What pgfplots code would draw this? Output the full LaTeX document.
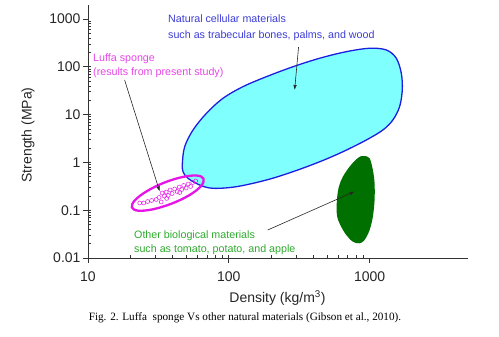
\documentclass[border=0pt]{standalone}
\usepackage{pgfplots}
\pgfplotsset{compat=1.18}
\usepackage{fontspec}
\setmainfont{Liberation Sans}
\newfontfamily\capfont{Liberation Serif}
\usetikzlibrary{arrows.meta}
\definecolor{cyanfill}{RGB}{128,255,255}
\definecolor{blueline}{RGB}{30,30,225}
\definecolor{bluetext}{RGB}{60,60,215}
\definecolor{magline}{RGB}{230,20,230}
\definecolor{magtext}{RGB}{230,70,230}
\definecolor{greenfill}{RGB}{0,112,0}
\definecolor{greentext}{RGB}{45,170,45}
\begin{document}
\begin{tikzpicture}
\path[use as bounding box] (-88pt,-79pt) rectangle (411pt,258pt);
\begin{axis}[
  at={(0pt,0pt)}, anchor=south west,
  scale only axis, width=380pt, height=253.4pt,
  xmode=log, ymode=log,
  xmin=10, xmax=5000, ymin=0.01, ymax=2000,
  axis x line*=bottom, axis y line*=left,
  axis line style={black!80, line width=0.8pt},
  xtick={10,100,1000}, xticklabels={10,100,1000},
  ytick={0.01,0.1,1,10,100,1000}, yticklabels={0.01,0.1,1,10,100,1000},
  tick label style={font=\fontsize{14}{16}\selectfont, text=black!85},
  xticklabel style={yshift=-10pt},
  yticklabel style={xshift=-4pt},
  /pgf/number format/assume math mode=true,
  tick align=inside, major tick length=5pt, minor tick length=3pt,
  tick style={black!80, line width=0.6pt},
  major x tick style={yshift=-5pt},
  major y tick style={xshift=-5pt},
  clip=false,
]
% natural cellular materials
\addplot[draw=blueline, line width=1.3pt, fill=cyanfill, smooth cycle, tension=0.55] coordinates {
 (46.8,0.957) (48.6,2.13) (55.7,4.76) (69.3,10.6) (90.9,21.9) (126,38.4)
 (185,62.1) (285,100) (442,151) (683,207) (1000,244) (1314,225) (1548,151)
 (1680,73.1) (1707,32.7) (1633,14.6) (1463,7.71) (1243,4.76) (948,2.94)
 (646,1.67) (442,1.03) (285,0.638) (185,0.428) (113,0.310) (77.2,0.287)
 (62.1,0.337) (51.3,0.465) (47.3,0.638)
};
% other biological materials
\addplot[draw=none, fill=greenfill, smooth cycle, tension=0.55] coordinates {
 (921,1.36) (1000,1.22) (1055,0.693) (1085,0.366) (1085,0.163) (1055,0.0731)
 (1000,0.0385) (921,0.0238) (849,0.0203) (761,0.0219) (683,0.0303) (619,0.049)
 (586,0.0794) (586,0.163) (605,0.310) (646,0.502) (721,0.813) (805,1.16) (873,1.36)
};
% luffa ellipse
\addplot[draw=magline, line width=2.3pt, smooth cycle, tension=0.6] coordinates {
 (66.2,0.452) (63.3,0.316) (52.0,0.203) (39.0,0.136) (28.7,0.1040) (22.7,0.0978)
 (20.5,0.115) (21.6,0.163) (26.3,0.252) (35.1,0.381) (47.3,0.497) (59.6,0.530)
};
% luffa data
\addplot[only marks, mark=o, mark size=2pt, magline, mark options={line width=0.5pt}] coordinates {
 (23.3,0.1416) (24.9,0.1416) (26.5,0.152) (28.3,0.1596) (30.5,0.1675) (32.0,0.1845)
 (33.1,0.1486) (33.6,0.229) (34.8,0.198) (35.9,0.240) (37.1,0.203) (38.3,0.265)
 (39.6,0.2235) (41.3,0.278) (43.0,0.246) (44.4,0.3055) (46.3,0.271) (47.8,0.329)
 (49.8,0.291) (51.4,0.353) (53.6,0.313) (55.4,0.380) (58.2,0.408) (36.2,0.176)
 (44.8,0.2345)
};
% arrows
\addplot[black!85, line width=0.6pt, -{Latex[length=5pt,width=3.5pt]}] coordinates {(313,259) (293.5,32.7)};
\addplot[black!85, line width=0.6pt, -{Latex[length=5pt,width=3.5pt]}] coordinates {(18.2,52.9) (32.3,0.246)};
\addplot[black!85, line width=0.6pt, -{Latex[length=5pt,width=3.5pt]}] coordinates {(189,0.0385) (783,0.246)};
\end{axis}
\begin{scope}[every node/.style={inner sep=0pt}]
\node[anchor=west, text=bluetext, font=\fontsize{10.7}{12}\selectfont] at (80pt,239pt) {Natural cellular materials};
\node[anchor=west, text=bluetext, font=\fontsize{10.7}{12}\selectfont] at (80pt,222.5pt) {such as trabecular bones, palms, and wood};
\node[anchor=west, text=magtext, font=\fontsize{10.7}{12}\selectfont] at (5pt,199pt) {Luffa sponge};
\node[anchor=west, text=magtext, font=\fontsize{10.7}{12}\selectfont] at (5pt,185pt) {(results from present study)};
\node[anchor=west, text=greentext, font=\fontsize{10.7}{12}\selectfont] at (46pt,22pt) {Other biological materials};
\node[anchor=west, text=greentext, font=\fontsize{10.7}{12}\selectfont] at (46pt,8pt) {such as tomato, potato, and apple};
\node[rotate=90, text=black!85, font=\fontsize{14}{16}\selectfont] at (-60pt,123pt) {Strength (MPa)};
\node[text=black!85, font=\fontsize{14}{16}\selectfont] at (189.5pt,-40pt) {Density (kg/m\textsuperscript{3})};
\node[font=\capfont\fontsize{11.2}{13}\selectfont] at (157pt,-60pt) {Fig. 2. Luffa\ \ sponge Vs other natural materials (Gibson et al., 2010).};
\end{scope}
\end{tikzpicture}
\end{document}
